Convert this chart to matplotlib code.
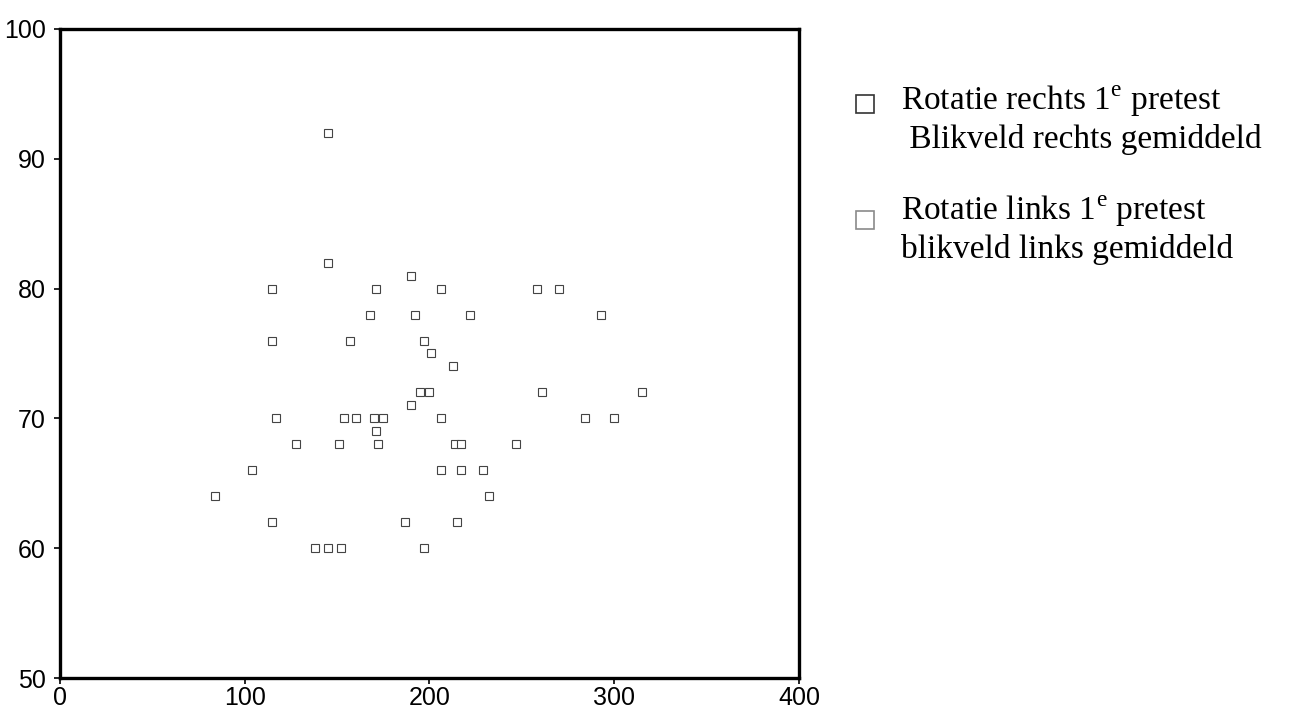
import matplotlib.pyplot as plt
import numpy as np

plt.rcParams['mathtext.fontset'] = 'custom'
plt.rcParams['mathtext.rm'] = 'Liberation Serif'

# punten (scheefstand gecorrigeerd)
x_vals = [145, 145, 115, 190, 171, 206, 258, 270,
          168, 192, 222, 293,
          115, 157, 197, 201, 213,
          195, 200, 190, 261, 315,
          117, 154, 160, 170, 175, 171, 206, 284, 300,
          128, 151, 172, 214, 217, 247,
          104, 206, 217, 229, 232, 84,
          115, 187, 215,
          138, 145, 152, 197]
y_vals = [92, 82, 80, 81, 80, 80, 80, 80,
          78, 78, 78, 78,
          76, 76, 76, 75, 74,
          72, 72, 71, 72, 72,
          70, 70, 70, 70, 70, 69, 70, 70, 70,
          68, 68, 68, 68, 68, 68,
          66, 66, 66, 66, 64, 64,
          62, 62, 62,
          60, 60, 60, 60]

legend_lines = [('Rotatie rechts 1$^{\\mathrm{e}}$ pretest', ' Blikveld rechts gemiddeld'),
                ('Rotatie links 1$^{\\mathrm{e}}$ pretest', 'blikveld links gemiddeld')]
legend_edge = ['#333333', '#8a8a8a']

fig = plt.figure(figsize=(12.92, 7.26), dpi=100)
ax = fig.add_axes([0.0464, 0.0661, 0.572, 0.894])

ax.plot(x_vals, y_vals, ls='none', marker='s', ms=5.5, mfc='white',
        mec='#444444', mew=0.8)

ax.set_xlim(0, 400)
ax.set_ylim(50, 100)
ax.set_xticks([0, 100, 200, 300, 400])
ax.set_yticks([50, 60, 70, 80, 90, 100])
for s in ax.spines.values():
    s.set_linewidth(2.4)
ax.tick_params(direction='out', length=4, width=1.2, labelsize=18)
ax.tick_params(axis='y', pad=6)
ax.tick_params(axis='x', pad=2)
for lab in ax.get_xticklabels() + ax.get_yticklabels():
    lab.set_fontfamily('Liberation Sans')

# legenda, handmatig geplaatst
sq_y = [0.8567, 0.697]
txt_y = [(0.8485, 0.796), (0.697, 0.6446)]
for i in range(2):
    fig.add_artist(plt.Line2D([0.6695], [sq_y[i]], transform=fig.transFigure,
                              ls='none', marker='s', ms=12.5, mfc='white',
                              mec=legend_edge[i], mew=1.2))
    fig.text(0.697, txt_y[i][0], legend_lines[i][0], fontsize=24,
             family='Liberation Serif', va='baseline', ha='left')
    fig.text(0.697, txt_y[i][1], legend_lines[i][1], fontsize=24,
             family='Liberation Serif', va='baseline', ha='left')

fig.savefig('out.png', dpi=100)
